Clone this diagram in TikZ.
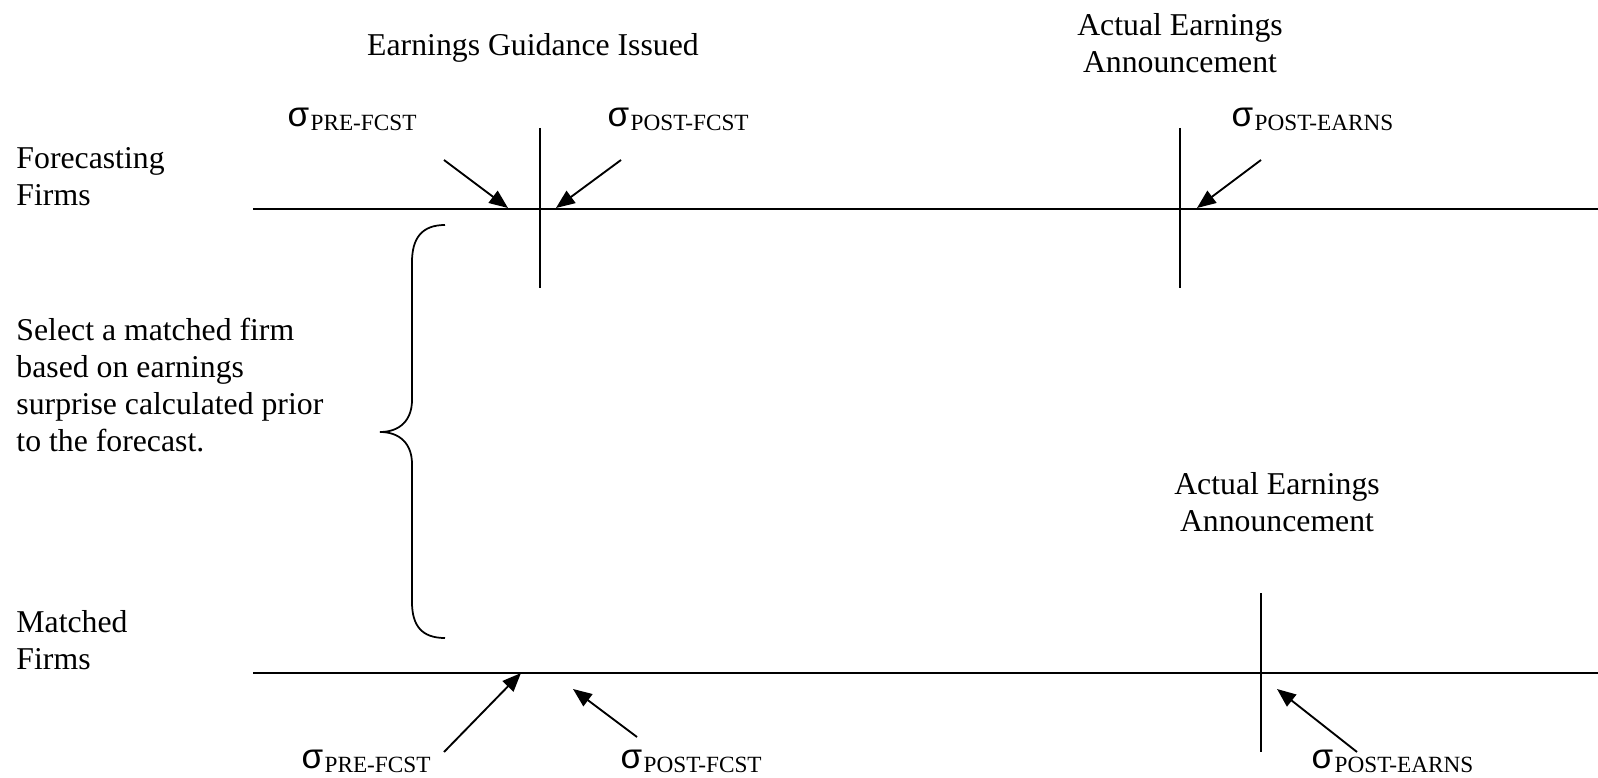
\documentclass[tikz,border=0pt]{standalone}
\usepackage{fontspec}
\setmainfont{Liberation Serif}
\newfontfamily\sigmafont{Liberation Sans}
\usetikzlibrary{arrows.meta}

\newcommand{\sigmalab}[1]{{\sigmafont\fontsize{14}{14}\selectfont σ}\kern0.6pt\raisebox{-1.6pt}{\fontsize{9.3}{9.3}\selectfont #1}}

\begin{document}
\begin{tikzpicture}[x=0.4pt,y=-0.4pt]

\tikzset{txt/.style = {inner sep=0, font=\fontsize{12.7}{14.8}\selectfont, align=left}}
\tikzset{sig/.style = {inner sep=0, anchor=base west}}
\tikzset{timeline/.style = {line width=0.8pt}}
\tikzset{pointer/.style = {line width=0.75pt, -{Triangle[length=7.5pt,width=6pt]}}}

\useasboundingbox (0,0) rectangle (1598,778);

% texts
\node[txt, anchor=west] (forecasting) at (16,177) {Forecasting\\Firms};
\node[txt, anchor=west] (select) at (16,385) {Select a matched firm\\based on earnings\\surprise calculated prior\\to the forecast.};
\node[txt, anchor=west] (matched) at (16,640) {Matched\\Firms};
\node[txt] (guidance) at (533,48) {Earnings Guidance Issued};
\node[txt, align=center] (topearn) at (1180,43) {Actual Earnings\\Announcement};
\node[txt, align=center] (botearn) at (1277,502) {Actual Earnings\\Announcement};

% sigma labels
\node[sig] (toppre) at (287,127) {\sigmalab{PRE-FCST}};
\node[sig] (toppost) at (607,127) {\sigmalab{POST-FCST}};
\node[sig] (topearns) at (1231,127) {\sigmalab{POST-EARNS}};
\node[sig] (botpre) at (301,768.5) {\sigmalab{PRE-FCST}};
\node[sig] (botpost) at (620,768.5) {\sigmalab{POST-FCST}};
\node[sig] (botearns) at (1311,768.5) {\sigmalab{POST-EARNS}};

% time lines
\coordinate (topleft) at (253,209);
\coordinate (topright) at (1598,209);
\coordinate (botleft) at (253,673);
\coordinate (botright) at (1598,673);
\draw[timeline] (topleft) -- (topright);
\draw[timeline] (botleft) -- (botright);

% event ticks
\coordinate (guidetop) at (540,128);
\coordinate (guidebot) at (540,288);
\coordinate (earntop) at (1180,128);
\coordinate (earnbot) at (1180,288);
\coordinate (mearntop) at (1261,593);
\coordinate (mearnbot) at (1261,752);
\draw[timeline] (guidetop) -- (guidebot);
\draw[timeline] (earntop) -- (earnbot);
\draw[timeline] (mearntop) -- (mearnbot);

% arrows
\coordinate (a1) at (444,160);   \coordinate (b1) at (508,208);
\coordinate (a2) at (621,160);   \coordinate (b2) at (556,208);
\coordinate (a3) at (1261,160);  \coordinate (b3) at (1197,208);
\coordinate (a4) at (444,752);   \coordinate (b4) at (521,673);
\coordinate (a5) at (637,737);   \coordinate (b5) at (573,689);
\coordinate (a6) at (1357,752);  \coordinate (b6) at (1277,689);
\draw[pointer] (a1) -- (b1);
\draw[pointer] (a2) -- (b2);
\draw[pointer] (a3) -- (b3);
\draw[pointer] (a4) -- (b4);
\draw[pointer] (a5) -- (b5);
\draw[pointer] (a6) -- (b6);

% brace
\coordinate (bracetop) at (445,225);
\coordinate (bracetip) at (380,432);
\coordinate (bracebot) at (445,638);
\draw[line width=0.7pt] (bracetop) .. controls (422,225) and (412,238) .. (412,262)
  -- (412,400) .. controls (412,420) and (400,432) .. (bracetip)
  .. controls (400,432) and (412,444) .. (412,464)
  -- (412,602) .. controls (412,626) and (422,638) .. (bracebot);

\end{tikzpicture}
\end{document}
